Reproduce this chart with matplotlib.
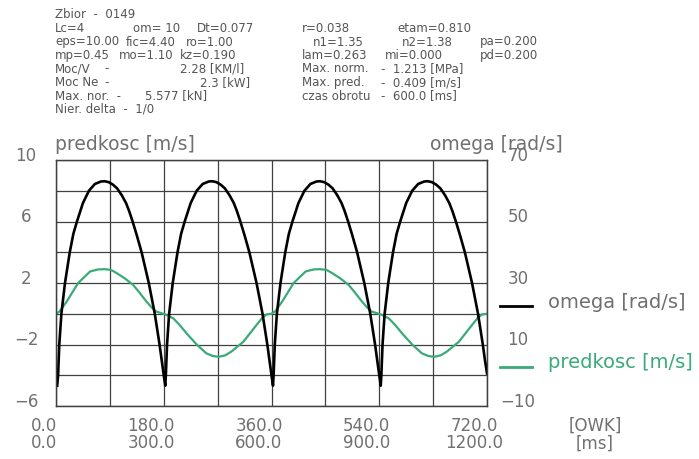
import matplotlib
matplotlib.use("Agg")
import matplotlib.pyplot as plt
import matplotlib.transforms as mtransforms

# crank angle [deg] and angular velocity omega [rad/s], one list per arc
luk1_kat = [2, 3.5, 5.5, 9, 15, 23, 29, 35, 45, 55, 65, 75, 81, 88, 95, 102, 110, 117, 122, 128, 135, 143, 149,
            155, 160, 165, 169, 173, 176.5, 180, 182.5]
luk1_om = [-3.4, 0, 10, 20, 30, 40, 46, 50, 56, 60, 62.2, 63, 63.1, 62.8, 62, 60.8, 58.5, 56, 53.5, 50, 45.5, 40, 35,
           30, 25, 20, 15, 10, 5, 0, -3.4]
luk2_kat = [183.5, 185.5, 189, 195, 203, 209, 215, 225, 235, 245, 255, 261, 268, 275, 282, 290, 297, 302, 308, 315,
            323, 329, 335, 340, 345, 349, 353, 356.5, 360, 362.5]
luk2_om = [0, 10, 20, 30, 40, 46, 50, 56, 60, 62.2, 63, 63.1, 62.8, 62, 60.8, 58.5, 56, 53.5, 50, 45.5,
           40, 35, 30, 25, 20, 15, 10, 5, 0, -3.4]
luk3_kat = [363.5, 365.5, 369, 375, 383, 389, 395, 405, 415, 425, 435, 441, 448, 455, 462, 470, 477, 482, 488, 495,
            503, 509, 515, 520, 525, 529, 533, 536.5, 540, 542.5]
luk3_om = [0, 10, 20, 30, 40, 46, 50, 56, 60, 62.2, 63, 63.1, 62.8, 62, 60.8, 58.5, 56, 53.5, 50, 45.5,
           40, 35, 30, 25, 20, 15, 10, 5, 0, -3.4]
luk4_kat = [543.5, 545.5, 549, 555, 563, 569, 575, 585, 595, 605, 615, 621, 628, 635, 642, 650, 657, 662, 668, 675,
            683, 689, 695, 700, 705, 709, 713, 716.5, 720]
luk4_om = [0, 10, 20, 30, 40, 46, 50, 56, 60, 62.2, 63, 63.1, 62.8, 62, 60.8, 58.5, 56, 53.5, 50, 45.5,
           40, 35, 30, 25, 20, 15, 10, 5, 0.6]

# crank angle [deg] and piston speed [m/s]
kat_pred = [0, 6, 18, 37, 57, 70, 81, 92, 101, 115, 129, 140, 151, 160, 167, 175, 183, 196, 207, 218, 235, 251, 262,
            272, 283, 293, 313, 335, 345, 352,
            360, 366, 378, 397, 417, 430, 441, 452, 461, 475, 489, 500, 511, 520, 527, 535, 543, 556, 567, 578, 595, 611,
            622, 632, 643, 653, 673, 695, 705, 712, 720]
predkosc = [0.0, 0.15, 0.8, 2.0, 2.75, 2.88, 2.9, 2.85, 2.65, 2.3, 1.87, 1.35, 0.8, 0.4, 0.15, 0.05, -0.05, -0.3, -0.75,
            -1.27, -2.0, -2.57, -2.75, -2.8, -2.7, -2.46, -1.82, -0.73, -0.25, -0.04,
            0.0, 0.15, 0.8, 2.0, 2.75, 2.88, 2.9, 2.85, 2.65, 2.3, 1.87, 1.35, 0.8, 0.4, 0.15, 0.05, -0.05, -0.3, -0.75,
            -1.27, -2.0, -2.57, -2.75, -2.8, -2.7, -2.46, -1.82, -0.73, -0.25, -0.04, 0.0]

x_owk = [0, 180, 360, 540, 720]
x_ms = ["0.0", "300.0", "600.0", "900.0", "1200.0"]
y_lewa = [10, 6, 2, -2, -6]
y_prawa = [70, 50, 30, 10, -10]

naglowek = [
    [(55, "Zbior  -  0149")],
    [(55, "Lc=4"), (133, "om= 10"), (197, "Dt=0.077"), (302, "r=0.038"), (397, "etam=0.810")],
    [(55, "eps=10.00"), (126, "fic=4.40"), (186, "ro=1.00"), (313, "n1=1.35"), (402, "n2=1.38"), (480, "pa=0.200")],
    [(55, "mp=0.45"), (119, "mo=1.10"), (180, "kz=0.190"), (302, "lam=0.263"), (385, "mi=0.000"), (480, "pd=0.200")],
    [(55, "Moc/V"), (104, "-"), (180, "2.28 [KM/l]"), (302, "Max. norm."), (381, "-  1.213 [MPa]")],
    [(55, "Moc Ne"), (104, "-"), (200, "2.3 [kW]"), (302, "Max. pred."), (381, "-  0.409 [m/s]")],
    [(55, "Max. nor.  -"), (145, "5.577 [kN]"), (302, "czas obrotu"), (381, "-  600.0 [ms]")],
    [(55, "Nier. delta  -  1/0")],
]

SZARY = "#707070"
ZIELONY = "#3aaa78"
W, H = 699, 459

fig = plt.figure(figsize=(W / 100, H / 100), dpi=100)
ax = fig.add_axes([56 / W, 1 - 406 / H, (487 - 56) / W, (406 - 160) / H])
ax2 = ax.twinx()

ax.set_xlim(0, 720)
ax.set_ylim(-6, 10)
ax2.set_ylim(-10, 70)
ax.set_xticks(range(0, 721, 90))
ax.set_yticks(range(-6, 11, 2))
ax.grid(True, color="#404040", lw=0.9)
for a in (ax, ax2):
    a.tick_params(length=0, labelleft=False, labelright=False, labelbottom=False)
    for s in a.spines.values():
        s.set_color("#404040")
        s.set_linewidth(0.9)

ax.plot(kat_pred, predkosc, color=ZIELONY, lw=1.6)
ax2.plot(luk1_kat + luk2_kat + luk3_kat + luk4_kat,
         luk1_om + luk2_om + luk3_om + luk4_om, color="black", lw=1.9)

# tick labels drawn by hand, plotter style
tr_l = mtransforms.offset_copy(mtransforms.blended_transform_factory(fig.transFigure, ax.transData),
                               fig=fig, y=3, units="points")
for v in y_lewa:
    fig.text(26 / W, v, str(v).replace("-", "\u2212"), transform=tr_l, ha="center", va="center",
             fontsize=12, color=SZARY)
tr_r = mtransforms.offset_copy(mtransforms.blended_transform_factory(fig.transFigure, ax2.transData),
                               fig=fig, y=3, units="points")
for v in y_prawa:
    fig.text(518 / W, v, str(v).replace("-", "\u2212"), transform=tr_r, ha="center", va="center",
             fontsize=12, color=SZARY)
tr_x = mtransforms.offset_copy(mtransforms.blended_transform_factory(ax.transData, fig.transFigure),
                               fig=fig, x=-9, units="points")
for k, ms in zip(x_owk, x_ms):
    fig.text(k, 1 - 426 / H, "%.1f" % k, transform=tr_x, ha="center", va="center", fontsize=12, color=SZARY)
    fig.text(k, 1 - 443.5 / H, ms, transform=tr_x, ha="center", va="center", fontsize=12, color=SZARY)
fig.text(595 / W, 1 - 426 / H, "[OWK]", ha="center", va="center", fontsize=12, color=SZARY)
fig.text(595 / W, 1 - 443.5 / H, "[ms]", ha="center", va="center", fontsize=12, color=SZARY)

fig.text(55 / W, 1 - 145 / H, "predkosc [m/s]", ha="left", va="center", fontsize=13.5, color=SZARY)
fig.text(563 / W, 1 - 145 / H, "omega [rad/s]", ha="right", va="center", fontsize=13.5, color=SZARY)

# legend on the right
fig.add_artist(plt.Line2D([500 / W, 532 / W], [1 - 306 / H] * 2, color="black", lw=2))
fig.text(548 / W, 1 - 302 / H, "omega [rad/s]", ha="left", va="center", fontsize=14, color=SZARY)
fig.add_artist(plt.Line2D([500 / W, 532 / W], [1 - 367 / H] * 2, color=ZIELONY, lw=2))
fig.text(548 / W, 1 - 362 / H, "predkosc [m/s]", ha="left", va="center", fontsize=14, color=ZIELONY)

# header with run parameters
for i, wiersz in enumerate(naglowek):
    y = 15 + i * 13.5
    for x, t in wiersz:
        fig.text(x / W, 1 - y / H, t, ha="left", va="center", fontsize=8.5, color="#555555")

fig.savefig("out.png", dpi=100)
